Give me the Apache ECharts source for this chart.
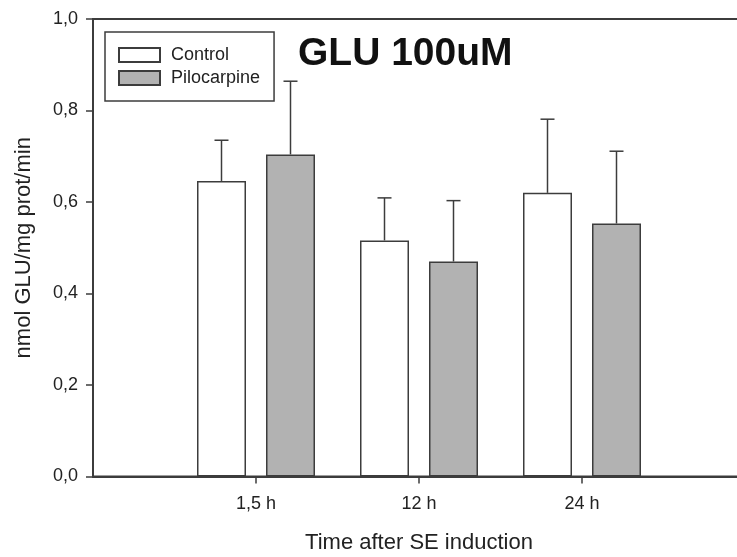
<!DOCTYPE html>
<html>
<head>
<meta charset="utf-8">
<script src="https://cdn.jsdelivr.net/npm/echarts@6/dist/echarts.min.js"></script>
<style>
  html, body { margin: 0; padding: 0; background: #fff; }
  #main { width: 737px; height: 557px; }
</style>
</head>
<body>
<div id="main"></div>
<script>
// time points after SE induction (empty slots pad the axis ends)
var times = ['1,5 h', '12 h', '24 h'];
var control = [0.646, 0.516, 0.620];
var controlErr = [0.735, 0.609, 0.781];     // top of error bar
var pilocarpine = [0.704, 0.470, 0.553];
var pilocarpineErr = [0.864, 0.603, 0.711];
var yTicks = [0, 0.2, 0.4, 0.6, 0.8, 1.0];

var categories = [''].concat(times, ['']);
var barW = 49, gapPx = 20;
var lineCol = '#3c3c3c';

function padded(arr) {
  return [null].concat(arr, [null]);
}
function errData(mean, top) {
  return mean.map(function (m, i) { return [i + 1, m, top[i]]; });
}
function errSeries(name, mean, top, side) {
  var offset = side * (barW + gapPx) / 2;
  return {
    name: name + ' err',
    type: 'custom',
    z: 5,
    data: errData(mean, top),
    renderItem: function (params, api) {
      var b = api.coord([api.value(0), api.value(1)]);
      var t = api.coord([api.value(0), api.value(2)]);
      var x = b[0] + offset;
      var st = { stroke: lineCol, lineWidth: 1.5 };
      return {
        type: 'group',
        children: [
          { type: 'line', shape: { x1: x, y1: b[1], x2: x, y2: t[1] }, style: st },
          { type: 'line', shape: { x1: x - 7, y1: t[1], x2: x + 7, y2: t[1] }, style: st }
        ]
      };
    }
  };
}

var myChart = echarts.init(document.getElementById('main'));

var option = {
  animation: false,
  backgroundColor: '#fff',
  textStyle: { fontFamily: 'Liberation Sans, Arial, sans-serif' },
  title: {
    text: 'GLU 100uM',
    left: 293,
    top: 29,
    textStyle: { fontSize: 39, fontWeight: 'bold', color: '#111', lineHeight: 40 }
  },
  legend: {
    data: ['Control', 'Pilocarpine'],
    orient: 'vertical',
    left: 105,
    top: 32,
    icon: 'rect',
    itemWidth: 41,
    itemHeight: 14,
    itemGap: 5,
    padding: [14, 14, 14, 13],
    borderColor: lineCol,
    borderWidth: 1.5,
    borderRadius: 0,
    textStyle: { fontSize: 18, color: '#222', lineHeight: 18, padding: [0, 0, 0, 6] }
  },
  grid: {
    left: 93,
    top: 19,
    width: 652,
    bottom: 80.5,
    outerBoundsMode: 'none',
    containLabel: false,
    show: true,
    borderColor: lineCol,
    borderWidth: 2
  },
  xAxis: {
    type: 'category',
    data: categories,
    boundaryGap: false,
    name: 'Time after SE induction',
    nameLocation: 'middle',
    nameGap: 55,
    nameTextStyle: { fontSize: 22, color: '#222' },
    axisLine: { lineStyle: { color: lineCol, width: 2 } },
    axisTick: {
      length: 7,
      interval: function (i, v) { return v !== ''; },
      lineStyle: { color: lineCol, width: 1.5 }
    },
    axisLabel: { fontSize: 18, color: '#222', margin: 19, interval: 0 },
    splitLine: { show: false }
  },
  yAxis: {
    type: 'value',
    min: yTicks[0],
    max: yTicks[yTicks.length - 1],
    interval: 0.2,
    name: 'nmol GLU/mg prot/min',
    nameLocation: 'middle',
    nameGap: 58,
    nameTextStyle: { fontSize: 22, color: '#222' },
    axisLine: { show: true, lineStyle: { color: lineCol, width: 2 } },
    axisTick: { show: true, length: 7, lineStyle: { color: lineCol, width: 1.5 } },
    axisLabel: {
      fontSize: 18,
      color: '#222',
      margin: 15,
      formatter: function (v) { return v.toFixed(1).replace('.', ','); }
    },
    splitLine: { show: false }
  },
  series: [
    {
      name: 'Control',
      type: 'bar',
      data: padded(control),
      barWidth: barW,
      barGap: (gapPx / barW * 100) + '%',
      itemStyle: { color: '#ffffff', borderColor: lineCol, borderWidth: 1.5 }
    },
    {
      name: 'Pilocarpine',
      type: 'bar',
      data: padded(pilocarpine),
      barWidth: barW,
      itemStyle: { color: '#b2b2b2', borderColor: lineCol, borderWidth: 1.5 }
    },
    errSeries('Control', control, controlErr, -1),
    errSeries('Pilocarpine', pilocarpine, pilocarpineErr, 1)
  ]
};

myChart.setOption(option);
</script>
</body>
</html>
